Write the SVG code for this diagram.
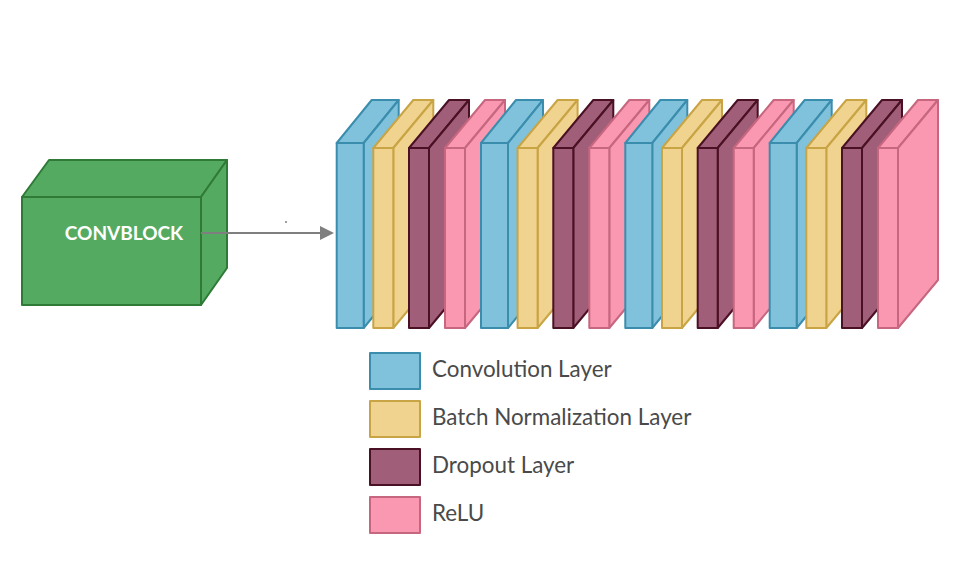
<svg xmlns="http://www.w3.org/2000/svg" xmlns:xlink="http://www.w3.org/1999/xlink" width="962" height="568" viewBox="0 0 962 568">
<style>
  .slab { stroke-width: 2; stroke-linejoin: round; }
  .conv { fill: #80C2DC; stroke: #3A8DAD; }
  .bn { fill: #F0D38E; stroke: #C8A445; }
  .drop { fill: #A15E78; stroke: #4A1024; }
  .relu { fill: #F998B0; stroke: #C6667F; }
  .green { fill: #55AA61; stroke: #2F7A37; stroke-width: 2; stroke-linejoin: round; }
  .label { font-family: Lato, "Liberation Sans", sans-serif; font-size: 22.4px; fill: #4A4A4A; }
  .blocktxt { font-family: Lato, "Liberation Sans", sans-serif; font-size: 19px; font-weight: 700; fill: #FFFFFF; }
  .conn { stroke: #7F7F7F; stroke-width: 2; fill: none; }
</style>
<defs>
  <g id="wideShape">
    <polygon points="0,143 35,100 62,100 27,143"/>
    <polygon points="27,143 62,100 62,285 27,328"/>
    <rect x="0" y="143" width="27" height="185"/>
  </g>
  <g id="thinShape">
    <polygon points="0,148 40,100 60,100 20,148"/>
    <polygon points="20,148 60,100 60,280 20,328"/>
    <rect x="0" y="148" width="20" height="180"/>
  </g>
</defs>
<rect width="962" height="568" fill="#FFFFFF"/>

<g id="convblock">
  <polygon class="green" points="22,197 49,160 227,160 201,197"/>
  <polygon class="green" points="201,197 227,160 227,268 201,305"/>
  <rect class="green" x="22" y="197" width="179" height="108"/>
  <text class="blocktxt" x="124" y="240" text-anchor="middle">CONVBLOCK</text>
</g>

<g id="connectors">
  <line class="conn" x1="201" y1="233" x2="321" y2="233"/>
  <polygon points="320,226 334,233 320,240" fill="#7F7F7F"/>
  <circle cx="286" cy="222" r="1" fill="#7F7F7F"/>
</g>

<g id="stack">
  <g id="conv1"><use xlink:href="#wideShape" class="slab conv" x="336.7"/></g>
  <g id="bn1"><use xlink:href="#thinShape" class="slab bn" x="373.3"/></g>
  <g id="drop1"><use xlink:href="#thinShape" class="slab drop" x="409"/></g>
  <g id="relu1"><use xlink:href="#thinShape" class="slab relu" x="445"/></g>
  <g id="conv2"><use xlink:href="#wideShape" class="slab conv" x="481"/></g>
  <g id="bn2"><use xlink:href="#thinShape" class="slab bn" x="517.6"/></g>
  <g id="drop2"><use xlink:href="#thinShape" class="slab drop" x="553.3"/></g>
  <g id="relu2"><use xlink:href="#thinShape" class="slab relu" x="589.3"/></g>
  <g id="conv3"><use xlink:href="#wideShape" class="slab conv" x="625.3"/></g>
  <g id="bn3"><use xlink:href="#thinShape" class="slab bn" x="662"/></g>
  <g id="drop3"><use xlink:href="#thinShape" class="slab drop" x="697.7"/></g>
  <g id="relu3"><use xlink:href="#thinShape" class="slab relu" x="733.7"/></g>
  <g id="conv4"><use xlink:href="#wideShape" class="slab conv" x="769.7"/></g>
  <g id="bn4"><use xlink:href="#thinShape" class="slab bn" x="806.3"/></g>
  <g id="drop4"><use xlink:href="#thinShape" class="slab drop" x="842"/></g>
  <g id="relu4"><use xlink:href="#thinShape" class="slab relu" x="878"/></g>
</g>

<g id="legend">
  <g id="legend-conv">
    <rect class="slab conv" x="370" y="353" width="50" height="36"/>
    <text class="label" x="432" y="377">Convolution Layer</text>
  </g>
  <g id="legend-bn">
    <rect class="slab bn" x="370" y="401" width="50" height="36"/>
    <text class="label" x="432" y="425">Batch Normalization Layer</text>
  </g>
  <g id="legend-drop">
    <rect class="slab drop" x="370" y="449" width="50" height="36"/>
    <text class="label" x="432" y="473">Dropout Layer</text>
  </g>
  <g id="legend-relu">
    <rect class="slab relu" x="370" y="497" width="50" height="36"/>
    <text class="label" x="432" y="521">ReLU</text>
  </g>
</g>
</svg>
